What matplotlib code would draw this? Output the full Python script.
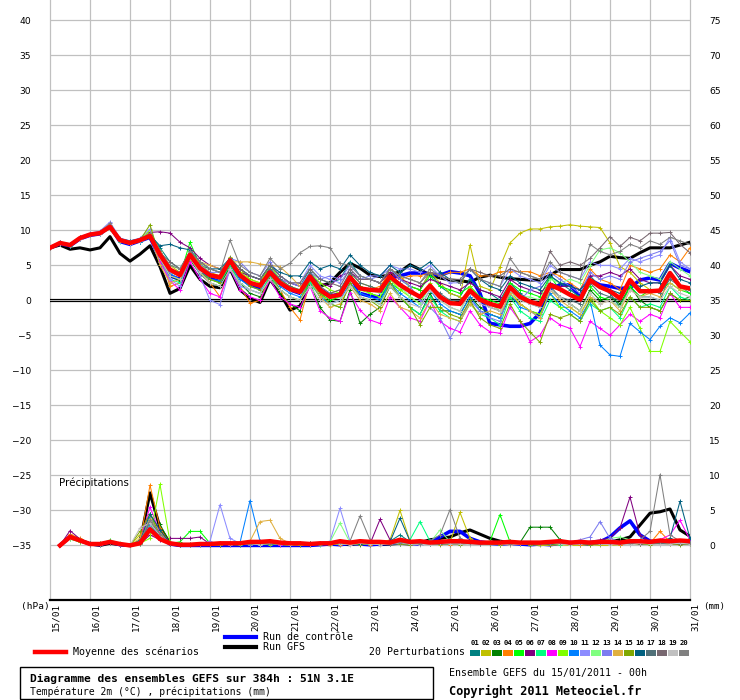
import numpy as np
import matplotlib
matplotlib.use('Agg')
import matplotlib.pyplot as plt
import matplotlib.transforms as mtransforms
from matplotlib.lines import Line2D
from matplotlib.patches import Rectangle

# dates on the x axis (one per day, 6h steps in between)
dates = ['15/01', '16/01', '17/01', '18/01', '19/01', '20/01', '21/01', '22/01',
         '23/01', '24/01', '25/01', '26/01', '27/01', '28/01', '29/01', '30/01', '31/01']
step_hours = 6

temp_ticks = list(range(-35, 45, 5))
precip_ticks = list(range(0, 80, 5))

member_names = ['%02d' % k for k in range(1, 21)]
member_colors = ['#008080', '#c0c000', '#008000', '#ff8000', '#00ff00', '#800080', '#00ff80',
                 '#ff00ff', '#80ff00', '#0080ff', '#8c8cff', '#80ff80', '#7c7cf0', '#e0b040',
                 '#80a800', '#006080', '#507078', '#786870', '#c0c0c0', '#808080']

# ---- 2m temperature (deg C), every 6h from 15/01 00h ----
t_mean = [7.5, 8.2, 7.9, 8.9, 9.4, 9.6, 10.5, 8.6, 8.2, 8.6, 9.2, 6.5, 4.4, 3.6, 6.5, 4.6,
          3.6, 3.3, 5.7, 3.6, 2.5, 2.1, 4.0, 2.5, 1.6, 1.2, 3.4, 1.5, 0.5, 0.8, 3.3, 1.7,
          1.5, 1.4, 3.4, 2.2, 1.3, 0.5, 2.1, 0.5, -0.4, -0.5, 1.4, 0.1, -0.5, -0.9, 1.9, 0.5,
          -0.2, -0.6, 2.2, 1.6, 0.8, 0.1, 2.9, 1.9, 1.3, 0.3, 2.9, 1.3, 1.3, 1.4, 3.9, 2.0, 1.7]
t_gfs = [7.5, 7.9, 7.3, 7.5, 7.2, 7.5, 9.1, 6.7, 5.6, 6.6, 7.8, 4.8, 1.0, 1.7, 5.0, 3.0,
         2.0, 1.8, 4.5, 1.5, 0.3, -0.3, 3.0, 1.0, -1.4, -0.8, 2.5, 2.0, 2.5, 4.0, 5.3, 4.6,
         3.6, 3.4, 3.6, 4.1, 5.1, 4.4, 3.6, 3.2, 2.9, 2.8, 2.6, 3.3, 3.6, 3.3, 3.1, 3.0,
         2.9, 2.9, 3.6, 4.4, 4.4, 4.4, 5.0, 5.5, 6.3, 6.1, 6.0, 6.8, 7.5, 7.5, 7.5, 7.9, 8.3]
t_ctrl = [7.5, 8.1, 7.8, 8.8, 9.3, 9.5, 10.6, 8.4, 8.0, 8.5, 9.0, 6.0, 3.5, 3.0, 6.2, 4.2,
          3.2, 2.8, 5.6, 3.3, 2.2, 1.8, 4.3, 2.4, 1.5, 1.0, 3.6, 1.6, 0.6, 0.9, 3.5, 1.0,
          0.6, 0.5, 3.2, 3.5, 3.9, 3.9, 3.8, 3.6, 4.1, 3.9, 3.5, 1.0, -3.3, -3.5, -3.7, -3.7,
          -3.3, -1.8, 1.7, 2.2, 2.2, 0.5, 2.9, 2.2, 2.0, 1.7, 1.8, 2.9, 3.2, 2.9, 5.3, 4.6, 4.1]

t_p01 = [7.5, 8.3, 8.0, 9.0, 9.5, 9.8, 10.8, 8.7, 8.3, 8.7, 9.5, 7.5, 5.5, 4.5, 7.0, 5.0,
         4.5, 4.0, 6.0, 4.5, 3.5, 3.0, 5.0, 3.5, 2.5, 2.0, 4.5, 3.0, 2.5, 3.0, 5.5, 3.5,
         3.0, 2.5, 4.5, 3.0, 2.0, 1.5, 4.0, 2.0, 1.0, 0.5, 3.0, 1.5, 1.0, 0.0, 2.5, 1.0,
         0.0, -1.0, 3.5, 2.5, 1.5, 0.5, 3.5, 2.0, 1.0, -1.0, 2.0, 0.5, 0.5, 0.0, 3.5, 2.0, 1.0]
t_p02 = [7.5, 8.1, 7.8, 8.8, 9.3, 9.6, 10.4, 8.5, 8.0, 8.5, 9.8, 7.0, 5.0, 4.0, 6.8, 5.2,
         4.0, 3.5, 6.2, 4.5, 3.0, 2.5, 4.5, 3.0, 1.5, 1.0, 3.0, 1.0, 0.5, 1.0, 4.0, 2.5,
         2.0, 1.5, 4.5, 3.5, 2.0, 1.5, 4.0, 2.5, 1.0, 0.5, 7.9, 2.0, 1.5, 4.8, 8.2, 9.6,
         10.2, 10.2, 10.5, 10.6, 10.8, 10.6, 10.5, 10.4, 8.2, 4.8, 4.0, 2.5, 1.5, 1.0, 3.5, 2.0, 1.5]
t_p03 = [7.5, 8.2, 7.9, 8.9, 9.4, 9.5, 10.3, 8.5, 8.1, 8.4, 9.0, 6.0, 3.5, 2.8, 5.8, 3.8,
         2.5, 2.0, 5.0, 2.5, 1.0, 0.5, 3.5, 1.0, -0.5, -1.5, 2.5, -1.0, -2.8, -3.0, 1.5, -3.3,
         -2.0, -1.0, 2.0, 0.5, -1.0, -2.0, 1.0, -1.5, -1.5, -2.0, 0.5, -1.0, -2.0, -2.5, 0.5, -0.5,
         -1.5, -2.0, 1.5, 0.5, -0.5, -1.5, 1.5, 0.0, 0.5, -0.5, 2.0, 0.0, -1.0, -1.5, 1.0, 0.0, 0.5]
t_p04 = [7.5, 8.2, 8.0, 9.0, 9.5, 9.7, 10.6, 8.8, 8.4, 8.8, 9.4, 6.8, 2.0, 2.5, 6.0, 4.0,
         2.5, 0.5, 4.8, 2.0, -0.4, 0.0, 3.5, 1.5, -1.0, -2.8, 2.8, 0.5, 1.0, 1.5, 3.5, 2.0,
         1.5, 2.0, 4.0, 3.0, 3.5, 3.5, 4.0, 3.5, 4.0, 4.0, 4.5, 3.5, 3.5, 4.1, 4.1, 4.1,
         4.1, 3.5, 4.0, 3.5, 2.5, 1.5, 4.5, 3.0, 2.5, 1.5, 5.0, 4.5, 4.0, 4.5, 6.5, 5.5, 7.5]
t_p05 = [7.5, 8.3, 8.0, 8.9, 9.4, 9.7, 10.7, 8.7, 8.3, 8.6, 9.3, 6.0, 4.0, 3.5, 8.3, 5.0,
         3.0, 2.5, 5.5, 3.5, 2.5, 2.0, 4.5, 2.5, 1.5, 1.0, 3.5, 1.0, 0.0, 0.5, 3.5, 2.0,
         1.0, 0.5, 2.5, 1.5, 2.0, 1.5, 3.5, 2.0, 1.5, 1.0, 2.0, 0.5, 0.0, -0.5, 2.5, 1.5,
         1.0, 0.5, 3.5, 1.5, 1.0, 0.5, 2.0, 0.5, 0.0, -1.0, 2.0, 0.5, 1.5, 1.5, 2.5, 1.5, 1.0]
t_p06 = [7.5, 8.2, 7.9, 8.8, 9.3, 9.6, 10.5, 8.6, 8.2, 8.5, 9.7, 9.8, 9.6, 8.3, 7.5, 6.0,
         5.0, 4.5, 5.0, 4.0, 3.5, 3.0, 4.5, 3.0, 2.5, 2.0, 3.5, 2.5, 2.0, 3.5, 4.0, 3.0,
         3.0, 2.5, 4.0, 3.0, 2.5, 2.0, 3.0, 2.5, 2.0, 1.5, 2.5, 1.5, 1.0, 0.5, 3.0, 2.0,
         1.5, 1.0, 2.5, 2.0, 2.0, 1.5, 3.5, 3.5, 4.0, 3.5, 4.5, 3.0, 2.5, 2.5, 5.0, 3.5, 3.0]
t_p07 = [7.5, 8.1, 7.8, 8.8, 9.3, 9.5, 10.2, 8.4, 8.0, 8.4, 9.0, 5.5, 3.0, 2.5, 6.0, 4.0,
         3.0, 2.5, 5.0, 2.5, 1.5, 1.0, 3.5, 1.5, 0.5, 0.0, 2.5, 0.5, -0.5, -1.0, 2.5, 0.5,
         0.0, -0.5, 2.5, 0.5, -1.0, -2.0, 0.5, -1.5, -2.5, -3.0, -0.5, -2.0, -2.5, -3.5, 0.5, -1.5,
         -2.5, -3.0, 0.0, -1.0, -2.0, -3.0, -0.5, -1.5, -1.0, -2.5, 0.5, -1.0, -0.5, -1.0, 2.0, 0.5, 0.0]
t_p08 = [7.5, 8.3, 8.0, 9.0, 9.4, 9.6, 10.6, 8.6, 8.1, 8.5, 9.1, 5.5, 2.8, 1.5, 5.5, 3.0,
         1.0, 0.5, 4.5, 1.5, 0.5, 0.0, 3.0, 0.5, -0.5, -1.0, 2.0, -1.5, -2.5, -3.0, 1.0, -1.4,
         -2.8, -3.3, 0.5, -1.0, -2.5, -3.0, 0.0, -3.0, -4.0, -4.5, -1.5, -3.5, -4.5, -4.7, -1.0, -3.0,
         -5.9, -5.0, -2.5, -3.5, -4.0, -6.6, -3.0, -4.0, -5.0, -3.5, -2.0, -3.0, -2.0, -2.5, 1.0, -1.0, -1.0]
t_p09 = [7.5, 8.2, 7.9, 8.9, 9.5, 9.7, 10.8, 8.8, 8.4, 8.8, 10.0, 7.0, 4.5, 4.0, 7.0, 5.0,
         3.5, 3.0, 6.0, 4.0, 3.0, 2.5, 5.0, 3.0, 2.0, 1.5, 4.0, 2.5, 1.5, 1.0, 3.5, 1.5,
         1.0, 0.5, 3.0, 1.5, 0.5, -0.5, 2.5, 0.5, 0.0, -0.5, 2.0, 0.0, -0.5, -1.0, 1.5, -0.5,
         -1.5, -2.0, 1.0, -1.0, -1.0, -2.0, 0.5, -1.5, -2.5, -3.5, -1.0, -4.0, -7.3, -7.3, -3.0, -4.5, -5.9]
t_p10 = [7.5, 8.2, 7.8, 8.8, 9.3, 9.5, 10.4, 8.5, 8.1, 8.4, 9.0, 6.0, 3.8, 3.0, 6.2, 4.2,
         3.0, 2.8, 5.5, 3.0, 2.0, 1.5, 3.8, 2.0, 1.0, 0.5, 3.0, 0.5, -0.5, 0.0, 2.5, 1.0,
         0.5, 0.0, 2.5, 1.0, 0.0, -1.0, 1.5, -0.5, -1.5, -2.0, 0.5, -1.5, -2.0, -2.5, 1.0, -1.0,
         -1.5, -2.5, 1.0, -0.5, -1.5, -2.5, 0.0, -6.4, -7.8, -8.0, -3.3, -4.5, -5.6, -3.7, -2.5, -3.2, -1.8]
t_p11 = [7.5, 8.3, 8.1, 9.1, 9.6, 9.9, 11.2, 8.9, 8.5, 8.9, 10.2, 6.0, 3.0, 2.0, 6.5, 3.5,
         0.0, -0.6, 4.5, 2.0, 1.5, 1.0, 4.5, 3.0, 2.5, 2.5, 5.0, 3.5, 3.0, 2.5, 4.5, 3.0,
         3.5, 3.5, 5.0, 4.5, 4.5, 4.0, 5.0, 3.5, 2.5, 2.5, 4.5, 3.0, 2.5, 2.0, 4.5, 3.5,
         3.0, 2.5, 5.0, 4.0, 3.5, 3.0, 5.5, 5.0, 5.0, 4.5, 6.0, 5.5, 6.0, 6.5, 9.0, 5.5, 4.5]
t_p12 = [7.5, 8.2, 7.9, 8.9, 9.4, 9.6, 10.5, 8.6, 8.2, 8.6, 9.2, 6.5, 5.0, 4.5, 6.5, 4.5,
         3.5, 3.0, 5.5, 3.5, 2.5, 2.0, 4.0, 2.5, 1.5, 1.0, 3.5, 1.5, 0.5, 0.5, 3.0, 1.5,
         1.5, 1.0, 3.5, 2.0, 0.5, -0.5, 2.0, 0.0, -1.0, -1.5, 1.5, 0.0, -0.5, -1.5, 2.0, 0.5,
         0.5, 0.0, 3.0, 2.5, 3.0, 2.5, 5.0, 7.2, 7.5, 6.8, 5.5, 4.0, 3.5, 3.0, 5.5, 4.5, 3.5]
t_p13 = [7.5, 8.1, 7.9, 8.8, 9.3, 9.5, 10.6, 8.5, 8.1, 8.5, 9.0, 6.2, 4.0, 3.5, 6.5, 5.0,
         4.0, 4.0, 6.0, 5.5, 4.0, 3.5, 5.5, 3.5, 2.5, 2.0, 4.0, 3.0, 3.5, 3.0, 5.0, 3.5,
         3.0, 3.5, 4.5, 3.0, 2.0, 0.0, -1.0, -2.5, -5.4, -3.0, 0.0, -1.5, -2.5, -3.0, 1.5, 0.0,
         1.5, 2.0, 4.0, 3.0, 2.0, 1.0, 4.0, 3.0, 3.5, 3.0, 5.5, 6.0, 6.5, 7.0, 8.5, 5.0, 4.5]
t_p14 = [7.5, 8.2, 8.0, 9.0, 9.5, 9.7, 10.7, 8.7, 8.3, 8.7, 9.5, 5.0, 2.5, 3.0, 6.0, 5.5,
         5.0, 4.5, 5.5, 5.5, 5.5, 5.2, 5.0, 4.8, 3.5, 2.0, 3.0, 0.5, -1.0, -0.5, 2.0, 0.0,
         -0.5, -1.5, 1.0, -1.0, -1.5, -2.5, 0.0, -2.0, -2.5, -3.0, -0.5, -2.0, -1.5, -2.0, 1.0, -0.5,
         -1.5, -2.5, 1.5, 0.0, -1.0, -2.0, 0.5, -0.5, 0.0, -1.5, 1.5, 0.5, 1.0, 0.5, 2.5, 1.5, 1.5]
t_p15 = [7.5, 8.2, 7.9, 8.9, 9.4, 9.6, 10.5, 8.6, 8.2, 8.6, 10.8, 6.0, 3.5, 3.0, 6.0, 4.0,
         3.0, 2.5, 5.5, 3.5, 2.0, 1.5, 4.0, 1.5, 0.5, 0.0, 3.0, 1.0, -0.5, -1.0, 2.5, 0.5,
         0.0, -1.0, 2.5, 0.5, -1.0, -3.5, -1.0, -1.0, -2.0, -2.5, 0.0, -2.5, -3.5, -4.0, -0.5, -3.0,
         -4.5, -6.0, -2.0, -2.5, -2.0, -3.0, 0.0, -1.5, -1.0, -2.0, 0.5, -1.0, -1.0, -1.5, 1.0, 0.0, 0.0]
t_p16 = [7.5, 8.2, 8.0, 9.0, 9.5, 9.7, 10.6, 8.8, 8.5, 8.8, 9.3, 7.8, 8.0, 7.5, 7.2, 5.5,
         4.5, 4.5, 6.0, 4.5, 3.5, 3.0, 5.0, 4.0, 3.5, 3.5, 5.5, 4.5, 5.0, 4.5, 6.5, 5.0,
         4.0, 3.5, 5.0, 4.0, 5.0, 4.5, 5.5, 4.0, 3.0, 2.5, 4.5, 3.0, 2.0, 1.5, 3.5, 2.5,
         2.0, 1.5, 3.5, 2.5, 2.0, 1.5, 3.0, 2.0, 1.5, 1.0, 2.5, 2.0, 2.5, 2.5, 5.0, 3.0, 2.5]
t_p17 = [7.5, 8.2, 7.9, 8.9, 9.4, 9.6, 10.4, 8.6, 8.2, 8.6, 9.3, 6.5, 4.5, 4.0, 6.5, 4.5,
         3.5, 3.0, 5.5, 3.5, 2.5, 2.0, 4.5, 3.0, 2.0, 1.5, 4.0, 2.0, 1.0, 1.5, 4.0, 2.5,
         2.0, 1.5, 3.5, 2.5, 1.0, 0.5, 2.0, 1.0, 0.0, 0.0, 1.5, 0.0, -1.0, -1.5, 1.5, 0.5,
         -0.5, -1.0, 2.0, 0.5, 0.0, -0.5, 2.5, 1.0, 0.5, 0.0, 3.0, 1.5, 1.5, 1.0, 3.0, 2.0, 1.5]
t_p18 = [7.5, 8.2, 8.0, 9.0, 9.5, 9.7, 10.6, 8.7, 8.3, 8.7, 9.4, 6.8, 5.5, 4.5, 7.0, 5.5,
         4.5, 4.0, 6.0, 4.5, 3.5, 3.0, 5.0, 3.5, 2.5, 2.5, 4.5, 3.0, 2.5, 2.0, 4.5, 3.0,
         3.0, 2.5, 4.5, 3.5, 3.0, 2.5, 4.0, 3.5, 3.0, 3.0, 4.5, 4.0, 3.5, 3.5, 4.5, 4.0,
         3.5, 3.0, 7.0, 5.0, 5.5, 5.0, 6.0, 7.5, 9.1, 7.7, 9.0, 8.5, 9.6, 9.6, 9.7, 8.0, 6.8]
t_p19 = [7.5, 8.1, 7.9, 8.8, 9.3, 9.5, 10.4, 8.5, 8.1, 8.5, 9.1, 6.0, 3.5, 3.0, 6.0, 4.0,
         2.5, 2.0, 4.5, 2.5, 1.5, 1.0, 3.0, 1.5, 0.5, 0.0, 2.0, 0.0, -0.5, 0.0, 2.0, 0.5,
         0.0, -0.5, 2.0, 0.5, -0.5, -1.0, 1.5, 0.0, -1.0, -1.5, 1.0, -0.5, -1.0, -1.5, 1.5, 0.0,
         -0.5, -1.0, 1.5, 0.5, -0.5, -1.5, 1.0, -0.5, 0.0, -1.0, 1.5, 0.5, 0.5, 0.0, 2.0, 1.0, 0.5]
t_p20 = [7.5, 8.3, 8.0, 9.0, 9.5, 9.8, 11.0, 8.8, 8.4, 8.8, 9.6, 7.0, 5.0, 4.5, 7.0, 5.5,
         4.5, 4.0, 8.6, 5.0, 4.0, 3.5, 6.0, 4.5, 5.3, 6.8, 7.7, 7.8, 7.5, 5.3, 5.0, 3.5,
         3.0, 2.5, 4.5, 3.5, 3.0, 2.5, 4.5, 3.5, 3.0, 2.5, 4.5, 3.0, 2.5, 2.0, 6.0, 4.0,
         3.5, 3.0, 5.5, 4.0, 3.5, 3.0, 8.0, 7.0, 6.5, 7.0, 8.0, 7.5, 8.5, 8.0, 9.0, 8.5, 8.0]
t_members = [t_p01, t_p02, t_p03, t_p04, t_p05, t_p06, t_p07, t_p08, t_p09, t_p10,
             t_p11, t_p12, t_p13, t_p14, t_p15, t_p16, t_p17, t_p18, t_p19, t_p20]

# ---- 6h precipitation (mm), from 15/01 06h ----
r_mean = [0.0, 1.2, 0.7, 0.2, 0.2, 0.5, 0.2, 0.0, 0.3, 2.3, 0.9, 0.3, 0.1, 0.1, 0.2, 0.2,
          0.3, 0.3, 0.3, 0.5, 0.5, 0.6, 0.4, 0.3, 0.3, 0.2, 0.3, 0.3, 0.6, 0.4, 0.6, 0.5,
          0.5, 0.4, 0.8, 0.5, 0.6, 0.4, 0.5, 0.6, 0.6, 0.5, 0.4, 0.4, 0.4, 0.5, 0.4, 0.4,
          0.4, 0.5, 0.6, 0.4, 0.5, 0.4, 0.5, 0.5, 0.4, 0.6, 0.6, 0.5, 0.7, 0.6, 0.7, 0.6]
r_gfs = [0, 1.3, 0.8, 0.2, 0.0, 0.3, 0.1, 0, 0.5, 7.5, 2.5, 0.3, 0.0, 0.1, 0.0, 0.0,
         0.1, 0.2, 0.1, 0.0, 0.2, 0.3, 0.1, 0.0, 0.0, 0.1, 0.2, 0.1, 0.2, 0.1, 0.3, 0.2,
         0.1, 0.2, 0.3, 0.2, 0.4, 0.8, 1.0, 1.2, 1.8, 2.2, 1.6, 1.0, 0.6, 0.4, 0.3, 0.2,
         0.1, 0.2, 0.3, 0.4, 0.3, 0.2, 0.4, 0.5, 0.8, 1.2, 2.9, 4.6, 4.8, 5.2, 2.2, 1.3]
r_ctrl = [0, 1.2, 0.7, 0.2, 0.1, 0.5, 0.1, 0, 0.4, 3.0, 1.3, 0.2, 0, 0, 0, 0,
          0, 0, 0, 0, 0, 0, 0, 0, 0, 0, 0.1, 0.2, 0.1, 0.3, 0.2, 0.1,
          0.2, 0.3, 0.4, 0.3, 0.2, 0.5, 1.2, 2.0, 2.0, 1.0, 0.5, 0.3, 0.2, 0.3, 0.2, 0.1,
          0.2, 0.1, 0.3, 0.4, 0.3, 0.2, 0.5, 1.2, 2.5, 3.5, 1.5, 0.6, 0.4, 0.3, 0.5, 0.4]

r_p01 = [0, 1.5, 0.8, 0.2, 0.1, 0.6, 0.2, 0, 0.8, 3.0, 1.2, 0.3, 0, 0, 0.1, 0.2,
         0.2, 0.1, 0.0, 0.3, 0.2, 0.6, 0.3, 0.0, 0.1, 0.2, 0.4, 0.2, 0.6, 0.3, 0.2, 0.1,
         0.3, 0.6, 1.5, 0.5, 0.3, 0.4, 0.2, 0.3, 0.5, 0.4, 0.3, 0.2, 0.3, 0.5, 0.4, 0.2,
         0.3, 0.5, 0.8, 0.4, 0.2, 0.3, 0.5, 0.3, 0.2, 0.6, 0.4, 0.5, 0.3, 0.4, 0.5, 0.3]
r_p02 = [0, 1.0, 0.6, 0.1, 0.2, 0.4, 0.1, 0, 1.5, 4.5, 2.0, 0.2, 0.1, 0, 0, 0.1,
         0.1, 0.3, 0.2, 0.1, 0.4, 0.2, 0.1, 0.0, 0.2, 0.1, 0.3, 0.5, 0.4, 0.2, 0.3, 0.2,
         0.4, 0.8, 5.0, 0.6, 0.2, 0.3, 0.1, 0.4, 4.7, 1.0, 0.3, 0.2, 0.1, 0.2, 0.3, 0.1,
         0.0, 0.0, 0.1, 0.0, 0.0, 0.1, 0.0, 0.0, 0.1, 0.3, 0.2, 0.4, 0.3, 0.2, 0.4, 0.3]
r_p03 = [0, 1.3, 0.7, 0.3, 0.2, 0.5, 0.2, 0, 0.3, 2.5, 3.0, 0.4, 0.1, 0, 0.2, 0.1,
         0.3, 0.2, 0.1, 0.4, 0.2, 0.5, 0.3, 0.2, 0.2, 0.4, 0.3, 0.2, 0.5, 0.3, 0.4, 0.2,
         0.3, 0.5, 0.4, 0.3, 0.2, 0.6, 0.4, 0.3, 0.2, 0.5, 0.3, 0.4, 0.3, 0.6, 0.4, 2.6,
         2.6, 2.6, 0.8, 0.3, 0.2, 0.4, 0.3, 0.2, 0.3, 0.2, 0.4, 0.3, 0.5, 0.3, 0.2, 0.4]
r_p04 = [0, 1.6, 1.0, 0.2, 0.1, 0.5, 0.1, 0, 0.5, 8.6, 2.5, 0.2, 0.1, 0, 0.1, 0.2,
         0.1, 0.2, 0.3, 0.1, 0.2, 0.4, 0.2, 0.1, 0.0, 0.1, 0.3, 0.2, 0.1, 0.3, 0.2, 0.1,
         0.2, 0.4, 0.3, 0.2, 0.5, 0.3, 0.2, 0.1, 0.3, 0.2, 0.4, 0.3, 0.2, 0.1, 0.2, 0.3,
         0.2, 0.1, 0.3, 0.2, 0.1, 0.2, 0.3, 0.2, 0.1, 0.2, 0.4, 0.3, 2.0, 0.5, 0.3, 0.2]
r_p05 = [0, 0.9, 0.5, 0.1, 0.2, 0.7, 0.2, 0, 0.2, 2.0, 1.0, 0.3, 0.5, 2.0, 2.0, 0.3,
         0.2, 0.3, 0.4, 0.2, 0.3, 0.5, 0.4, 0.3, 0.2, 0.3, 0.2, 0.4, 0.3, 0.2, 0.3, 0.5,
         0.3, 0.2, 0.6, 0.4, 0.3, 0.5, 0.2, 0.4, 0.3, 0.2, 0.4, 0.6, 4.4, 0.5, 0.3, 0.2,
         0.3, 0.4, 0.2, 0.3, 0.4, 0.2, 0.3, 0.5, 0.3, 0.2, 0.4, 0.2, 0.3, 0.5, 0.3, 0.4]
r_p06 = [0, 2.1, 0.9, 0.2, 0.1, 0.4, 0.1, 0, 0.2, 1.5, 0.8, 1.0, 1.0, 1.0, 1.2, 0.2,
         0.1, 0.3, 0.2, 0.1, 0.3, 0.2, 0.4, 0.3, 0.2, 0.1, 0.3, 0.4, 0.2, 0.6, 0.3, 0.2,
         3.7, 0.8, 0.4, 0.3, 0.2, 0.5, 0.3, 0.2, 0.4, 0.3, 0.2, 0.5, 0.3, 0.2, 0.4, 0.3,
         0.2, 0.3, 0.4, 0.2, 0.3, 0.6, 0.8, 1.0, 2.5, 6.9, 1.5, 0.5, 0.3, 0.4, 0.6, 0.3]
r_p07 = [0, 1.1, 0.6, 0.2, 0.3, 0.5, 0.2, 0, 0.4, 2.8, 1.6, 0.2, 0, 0.1, 0.2, 0.1,
         0.2, 0.1, 0.3, 0.2, 0.1, 0.3, 0.2, 0.4, 0.3, 0.2, 0.1, 0.3, 0.4, 0.2, 0.3, 0.2,
         0.3, 0.2, 0.5, 0.8, 3.4, 0.6, 0.3, 0.2, 0.3, 0.4, 0.2, 0.3, 0.5, 0.3, 0.2, 0.4,
         0.3, 0.2, 0.1, 0.3, 0.2, 0.4, 0.3, 0.2, 0.4, 0.3, 0.2, 0.3, 0.4, 0.3, 0.5, 0.2]
r_p08 = [0, 1.4, 0.7, 0.1, 0.2, 0.6, 0.1, 0, 0.6, 5.5, 1.8, 0.3, 0.1, 0, 0.1, 0.2,
         0.2, 0.1, 0.2, 0.4, 0.2, 0.3, 0.1, 0.2, 0.3, 0.2, 0.4, 0.2, 0.3, 0.5, 0.2, 0.3,
         0.2, 0.4, 0.3, 0.2, 0.3, 0.2, 0.4, 0.3, 0.2, 0.3, 0.5, 0.2, 0.3, 0.4, 0.2, 0.3,
         0.4, 0.2, 0.3, 0.5, 0.3, 0.2, 0.4, 0.3, 0.2, 0.4, 0.3, 0.5, 0.8, 1.5, 3.6, 0.8]
r_p09 = [0, 1.0, 0.5, 0.2, 0.1, 0.5, 0.2, 0, 0.3, 1.0, 8.7, 0.5, 0.1, 0.2, 0.1, 0.0,
         0.1, 0.2, 0.3, 0.1, 0.2, 0.1, 0.3, 0.2, 0.1, 0.3, 0.2, 0.1, 0.2, 0.4, 0.2, 0.3,
         0.2, 0.3, 0.2, 0.4, 0.3, 0.2, 0.3, 0.2, 0.3, 0.2, 0.3, 0.2, 0.4, 0.3, 0.2, 0.3,
         0.2, 0.4, 0.3, 0.2, 0.3, 0.4, 0.2, 0.3, 0.2, 0.3, 0.4, 0.2, 0.3, 0.2, 0.3, 0.2]
r_p10 = [0, 1.2, 0.8, 0.2, 0.2, 0.5, 0.2, 0, 0.5, 4.0, 1.5, 0.2, 0.1, 0.1, 0.2, 0.3,
         0.2, 0.3, 0.4, 6.4, 0.6, 0.3, 0.2, 0.1, 0.2, 0.1, 0.3, 0.2, 0.4, 0.2, 0.3, 0.2,
         0.3, 0.2, 0.4, 0.3, 0.2, 0.3, 0.2, 0.4, 0.2, 0.3, 0.2, 0.4, 0.3, 0.2, 0.3, 0.2,
         0.3, 0.2, 0.4, 0.3, 0.2, 0.3, 0.4, 0.2, 0.3, 0.5, 0.3, 0.2, 0.4, 0.3, 0.2, 0.3]
r_p11 = [0, 1.3, 0.6, 0.3, 0.2, 0.6, 0.2, 0, 0.4, 3.2, 1.4, 0.3, 0.2, 0.1, 0.2, 0.6,
         5.8, 1.0, 0.3, 0.2, 0.4, 0.3, 0.2, 0.3, 0.2, 0.3, 0.4, 0.6, 5.3, 0.6, 0.3, 0.2,
         0.3, 0.4, 0.2, 0.3, 0.5, 0.3, 0.2, 0.3, 0.4, 0.3, 0.2, 0.3, 0.2, 0.4, 0.3, 0.2,
         0.3, 0.2, 0.4, 0.3, 0.6, 0.4, 0.3, 0.2, 0.4, 0.3, 0.2, 0.4, 0.3, 0.5, 0.3, 0.4]
r_p12 = [0, 1.1, 0.7, 0.2, 0.2, 0.8, 0.3, 0, 0.2, 2.2, 1.1, 0.2, 0.1, 0.1, 0.2, 0.1,
         0.3, 0.2, 0.1, 0.3, 0.2, 0.4, 0.2, 0.3, 0.2, 0.3, 0.2, 0.5, 3.2, 0.4, 0.2, 0.3,
         0.2, 0.3, 0.4, 0.2, 0.3, 0.4, 2.2, 0.5, 0.3, 0.2, 0.4, 0.3, 0.2, 0.3, 0.4, 0.2,
         0.3, 0.4, 0.2, 0.3, 0.2, 0.5, 0.4, 1.0, 1.2, 0.8, 0.3, 0.4, 0.3, 0.2, 0.4, 0.3]
r_p13 = [0, 1.0, 0.6, 0.2, 0.1, 0.5, 0.1, 0, 0.3, 2.6, 1.3, 0.2, 0.1, 0.0, 0.1, 0.2,
         0.2, 0.3, 0.2, 0.1, 0.3, 0.2, 0.4, 0.2, 0.3, 0.2, 0.3, 0.2, 0.4, 0.3, 0.2, 0.3,
         0.2, 0.3, 0.2, 0.4, 0.3, 0.2, 0.3, 0.4, 0.3, 0.2, 0.3, 0.2, 0.4, 0.3, 0.2, 0.3,
         0.2, 0.3, 0.5, 0.4, 0.8, 1.2, 3.4, 1.0, 0.5, 0.3, 0.4, 0.2, 0.3, 0.4, 0.2, 0.3]
r_p14 = [0, 1.2, 0.9, 0.2, 0.2, 0.4, 0.2, 0, 1.0, 3.8, 1.7, 0.3, 0.1, 0.1, 0.1, 0.2,
         0.2, 0.3, 0.2, 0.6, 3.4, 3.6, 1.0, 0.3, 0.2, 0.3, 0.2, 0.1, 0.3, 0.2, 0.4, 0.2,
         0.3, 0.2, 0.4, 0.3, 0.2, 0.3, 0.2, 0.3, 0.2, 0.3, 0.4, 0.2, 0.3, 0.2, 0.3, 0.4,
         0.3, 0.2, 0.3, 0.4, 0.2, 0.3, 0.2, 0.3, 0.2, 0.3, 0.2, 0.4, 0.3, 0.2, 0.3, 0.2]
r_p15 = [0, 1.1, 0.6, 0.2, 0.3, 0.6, 0.2, 0, 2.0, 4.5, 1.5, 0.2, 0.1, 0.1, 0.0, 0.1,
         0.1, 0.2, 0.3, 0.2, 0.1, 0.3, 0.2, 0.1, 0.2, 0.1, 0.3, 0.2, 0.3, 0.2, 0.1, 0.3,
         0.2, 0.3, 0.2, 0.1, 0.3, 0.2, 0.3, 0.2, 0.1, 0.2, 0.3, 0.2, 0.1, 0.3, 0.2, 0.1,
         0.2, 0.1, 0.2, 0.3, 0.2, 0.1, 0.2, 0.3, 0.2, 0.3, 0.2, 0.1, 0.3, 0.2, 0.1, 0.2]
r_p16 = [0, 1.4, 0.8, 0.2, 0.2, 0.5, 0.2, 0, 0.6, 4.5, 2.2, 0.3, 0.1, 0.1, 0.2, 0.2,
         0.2, 0.3, 0.2, 0.4, 0.3, 0.2, 0.3, 0.2, 0.3, 0.2, 0.4, 0.3, 0.2, 0.3, 0.2, 0.4,
         0.3, 0.5, 3.9, 0.6, 0.3, 0.2, 0.3, 0.2, 0.3, 0.2, 0.4, 0.3, 0.2, 0.3, 0.4, 0.2,
         0.3, 0.2, 0.3, 0.4, 0.2, 0.3, 0.2, 0.4, 0.3, 0.2, 0.4, 0.3, 0.5, 1.0, 6.3, 1.0]
r_p17 = [0, 1.3, 0.7, 0.3, 0.1, 0.4, 0.2, 0, 0.4, 3.4, 1.2, 0.2, 0.1, 0.2, 0.1, 0.2,
         0.3, 0.2, 0.3, 0.2, 0.4, 0.3, 0.2, 0.3, 0.2, 0.3, 0.2, 0.4, 0.3, 0.2, 0.3, 0.2,
         0.3, 0.2, 0.3, 0.2, 0.4, 0.3, 0.2, 0.3, 0.2, 0.3, 0.2, 0.3, 0.2, 0.4, 0.3, 0.2,
         0.3, 0.4, 0.3, 0.2, 0.3, 0.2, 0.4, 0.3, 0.2, 0.3, 0.4, 0.3, 0.2, 0.4, 0.3, 0.2]
r_p18 = [0, 1.2, 0.6, 0.2, 0.2, 0.6, 0.1, 0, 0.3, 2.4, 1.0, 0.2, 0.1, 0.1, 0.2, 0.1,
         0.2, 0.3, 0.2, 0.3, 0.2, 0.4, 0.2, 0.3, 0.2, 0.3, 0.2, 0.3, 0.4, 0.2, 0.3, 0.2,
         0.3, 0.2, 0.4, 0.3, 0.2, 0.3, 0.2, 0.3, 0.2, 0.3, 0.2, 0.4, 0.3, 0.2, 0.3, 0.4,
         0.3, 0.2, 0.4, 0.3, 0.2, 0.3, 0.4, 0.2, 0.3, 0.4, 0.2, 0.3, 0.4, 0.3, 0.2, 0.3]
r_p19 = [0, 1.0, 0.8, 0.2, 0.1, 0.5, 0.2, 0, 2.5, 3.2, 1.4, 0.3, 0.2, 0.1, 0.1, 0.2,
         0.2, 0.1, 0.3, 0.2, 0.1, 0.3, 0.2, 0.1, 0.2, 0.1, 0.2, 0.3, 0.2, 0.1, 0.3, 0.2,
         0.1, 0.2, 0.3, 0.2, 0.1, 0.2, 0.3, 0.2, 0.2, 0.1, 0.2, 0.3, 0.2, 0.1, 0.2, 0.3,
         0.2, 0.3, 0.2, 0.1, 0.2, 0.3, 0.2, 0.1, 0.2, 0.1, 0.3, 0.2, 0.1, 0.2, 0.3, 0.2]
r_p20 = [0, 1.3, 0.7, 0.2, 0.2, 0.5, 0.2, 0, 0.6, 3.6, 1.6, 0.3, 0.1, 0.1, 0.2, 0.2,
         0.3, 0.2, 0.3, 0.2, 0.3, 0.2, 0.4, 0.3, 0.2, 0.4, 0.3, 0.2, 0.5, 0.6, 4.2, 0.8,
         0.3, 0.2, 0.4, 0.3, 0.2, 0.6, 1.5, 5.1, 1.0, 0.3, 0.2, 0.4, 0.3, 0.2, 0.3, 0.4,
         0.2, 0.3, 0.4, 0.2, 0.3, 0.2, 0.4, 0.3, 0.4, 0.5, 0.8, 2.0, 10.1, 1.5, 0.6, 0.4]
r_members = [r_p01, r_p02, r_p03, r_p04, r_p05, r_p06, r_p07, r_p08, r_p09, r_p10,
             r_p11, r_p12, r_p13, r_p14, r_p15, r_p16, r_p17, r_p18, r_p19, r_p20]

# time axis in days since 15/01 00h
t_days = np.arange(len(t_mean)) * step_hours / 24.0
r_days = np.arange(1, len(r_mean) + 1) * step_hours / 24.0

W, H = 740, 700
fig = plt.figure(figsize=(W / 100, H / 100), dpi=100)
fig.patch.set_facecolor('white')


def fx(x):
    return x / W


def fy(y):
    return 1 - y / H


ax = fig.add_axes([fx(50), 1 - 600 / H, 640 / W, 600 / H])
ylo, yhi = -42.8, 42.9
ax.set_xlim(0, len(dates) - 1)
ax.set_ylim(ylo, yhi)
for s in ['top', 'left', 'right']:
    ax.spines[s].set_visible(False)
ax.spines['bottom'].set_color('black')
ax.spines['bottom'].set_linewidth(1.6)
ax.spines['bottom'].set_zorder(6)

grid_col = '#c0c0c0'
for d in range(len(dates)):
    ax.axvline(d, color=grid_col, lw=0.9, zorder=1, clip_on=False)
for v in temp_ticks:
    if v != 0:
        ax.axhline(v, color=grid_col, lw=0.9, zorder=1)
ax.axhline(0, color='black', lw=2.3, zorder=1.5)
ax.axhline(0, color='#d8d8d8', lw=0.6, zorder=1.6)

ax.set_xticks([])
ax.set_yticks(temp_ticks)
ax.tick_params(axis='y', length=0, pad=13.5, labelsize=6.6)

# temperature spaghetti
ax.plot(t_days, t_gfs, color='black', lw=2.2, zorder=2.5)
ax.plot(t_days, t_ctrl, color='#0000ff', lw=2.6, zorder=2.6)
for vals, col in zip(t_members, member_colors):
    ax.plot(t_days, vals, color=col, lw=0.75, marker='+', ms=3, mew=0.7, zorder=3)
ax.plot(t_days, t_mean, color='#ff0000', lw=3.2, zorder=5)

# precipitation on the right-hand scale
ax2 = ax.twinx()
ax2.set_ylim(ylo + 35, yhi + 35)
for s in ax2.spines.values():
    s.set_visible(False)
ax2.set_yticks(precip_ticks)
ax2.tick_params(axis='y', length=0, pad=14, labelsize=6.6)
ax2.plot(r_days, r_gfs, color='black', lw=2.2, zorder=2.5)
ax2.plot(r_days, r_ctrl, color='#0000ff', lw=2.6, zorder=2.6)
for vals, col in zip(r_members, member_colors):
    ax2.plot(r_days, vals, color=col, lw=0.75, marker='+', ms=3, mew=0.7, zorder=3)
ax2.plot(r_days, r_mean, color='#ff0000', lw=3.2, zorder=5)
ax2.text(0.22, 9.0, 'Précipitations', fontsize=7.4, ha='left', va='center',
         family='DejaVu Sans', zorder=6)

# date labels under the axis
mono = 'DejaVu Sans Mono'
trans = mtransforms.blended_transform_factory(ax.transData, ax.transAxes) + \
    mtransforms.ScaledTranslation(5.5 / 100, -2.5 / 100, fig.dpi_scale_trans)
for d, lab in enumerate(dates):
    ax.text(d, 0, lab, transform=trans, rotation=90, ha='center', va='top',
            fontsize=6.7, family=mono)
fig.text(fx(21), fy(607), '(hPa)', fontsize=6.8, family=mono, va='center', ha='left')
fig.text(fx(703), fy(607), '(mm)', fontsize=6.6, family=mono, va='center', ha='left')

# legend
fig.add_artist(Line2D([fx(35), fx(66)], [fy(651.5), fy(651.5)], color='#ff0000', lw=3.2))
fig.text(fx(73), fy(652), 'Moyenne des scénarios', fontsize=7.2, family=mono, va='center')
fig.add_artist(Line2D([fx(225), fx(256)], [fy(637), fy(637)], color='#0000ff', lw=3.0))
fig.text(fx(263), fy(637), 'Run de contrôle', fontsize=7.2, family=mono, va='center')
fig.add_artist(Line2D([fx(225), fx(256)], [fy(646.5), fy(646.5)], color='black', lw=3.0))
fig.text(fx(263), fy(647), 'Run GFS', fontsize=7.2, family=mono, va='center')
fig.text(fx(369), fy(652), '20 Perturbations', fontsize=7.1, family=mono, va='center')
for k, (name, col) in enumerate(zip(member_names, member_colors)):
    x0 = 470 + 11 * k
    fig.add_artist(Rectangle((fx(x0), fy(655.5)), 10 / W, 6 / H, facecolor=col,
                             edgecolor='none', transform=fig.transFigure))
    fig.text(fx(x0 + 5), fy(643), name, fontsize=5.2, family=mono, ha='center',
             va='center', weight='bold')

# title box
fig.add_artist(Rectangle((fx(20), fy(698.5)), 413 / W, 31.5 / H, facecolor='none',
                         edgecolor='black', lw=1.0, transform=fig.transFigure))
fig.text(fx(30), fy(678.5), 'Diagramme des ensembles GEFS sur 384h : 51N 3.1E',
         fontsize=8.1, family=mono, weight='bold', va='center')
fig.text(fx(30), fy(691.5), 'Température 2m (°C) , précipitations (mm)',
         fontsize=7.0, family=mono, va='center')
fig.text(fx(449), fy(673), 'Ensemble GEFS du 15/01/2011 - 00h',
         fontsize=7.1, family=mono, va='center')
fig.text(fx(449), fy(691.5), 'Copyright 2011 Meteociel.fr',
         fontsize=8.6, family=mono, weight='bold', va='center')

fig.savefig('out.png', dpi=100)
